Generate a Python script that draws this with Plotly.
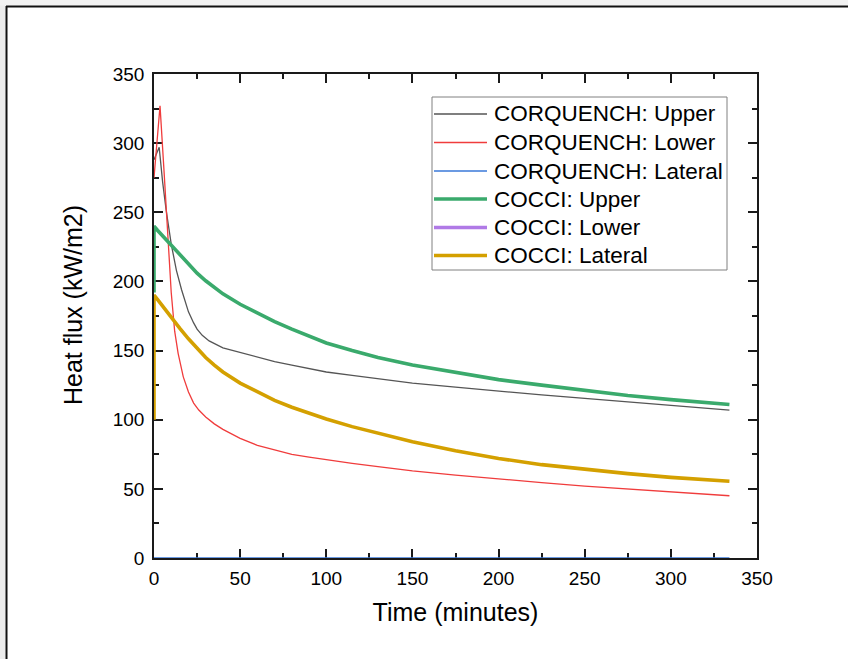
import plotly.graph_objects as go

# ---- data ----
t_cq_upper = [0, 1.5, 3, 5, 7, 10, 13, 16, 20, 23, 25, 28, 32, 40, 50, 60, 70, 80, 90, 100, 115, 130, 150, 175, 200, 225, 250, 275, 300, 334]
cq_upper = [288, 293, 297, 272, 252, 227, 208, 194, 178, 170, 165.5, 161, 157, 152, 148.5, 145, 142, 139.5, 137, 134.5, 132, 129.5, 126.5, 123.5, 120.5, 118, 115.5, 113, 110, 107]

t_cq_lower = [0, 1.5, 3.5, 6, 8, 10, 12, 14, 17, 20, 23, 26, 30, 35, 40, 50, 60, 70, 80, 90, 100, 115, 130, 150, 175, 200, 225, 250, 275, 300, 334]
cq_lower = [275, 300, 327, 276, 233, 192, 164, 148, 131, 120, 112, 107, 102, 97, 93, 86.5, 81.5, 78, 75, 73, 71, 68.5, 66, 63, 60, 57, 54.5, 52, 50, 48, 45]

t_cq_lateral = [0, 334]
cq_lateral = [0, 0]

t_cocci = [0, 0, 2, 5, 10, 15, 20, 25, 30, 35, 40, 50, 60, 70, 80, 90, 100, 115, 130, 150, 175, 200, 225, 250, 275, 300, 334]
cocci_upper = [192, 240, 237, 233, 226, 219, 212.5, 206, 200.5, 195.5, 191, 183.5, 177, 171, 165.5, 160.5, 155.5, 150, 145, 139.5, 134, 129, 125, 121, 117.5, 114.5, 111]
cocci_lower = [None] * len(t_cocci)
cocci_lateral = [100, 190, 187, 182, 174, 166, 158.5, 151.5, 145, 139.5, 134.5, 126.5, 120, 114, 109, 104.5, 100.5, 95, 90, 84, 77.5, 72, 67.5, 64, 61, 58.3, 55.5]

x_ticks = [0, 50, 100, 150, 200, 250, 300, 350]
y_ticks = [0, 50, 100, 150, 200, 250, 300, 350]

FONT = "Liberation Sans, Arial, sans-serif"

W, H = 848, 659
L, R, T, B = 154, 91, 74, 101
pw, ph = W - L - R, H - T - B


def px(xp):
    return (xp - L) / pw


def py(yp):
    return (H - B - yp) / ph


fig = go.Figure()
series = [
    ("CORQUENCH: Upper", t_cq_upper, cq_upper, "#555555", 1.3),
    ("CORQUENCH: Lower", t_cq_lower, cq_lower, "#f03c3c", 1.3),
    ("CORQUENCH: Lateral", t_cq_lateral, cq_lateral, "#3a78d8", 1.6),
    ("COCCI: Upper", t_cocci, cocci_upper, "#3aaa6c", 3.6),
    ("COCCI: Lower", t_cocci, cocci_lower, "#b07ae6", 3.6),
    ("COCCI: Lateral", t_cocci, cocci_lateral, "#d4a000", 3.6),
]
for name, x, y, c, w in series:
    fig.add_trace(go.Scatter(x=x, y=y, name=name, mode="lines",
                             line=dict(color=c, width=w), cliponaxis=False,
                             showlegend=False))

axis_common = dict(
    range=[0, 350], showline=True, linecolor="#1a1a1a",
    linewidth=1.7, mirror="allticks", ticks="inside", ticklen=9, tickwidth=1.5,
    tickcolor="#1a1a1a", showgrid=False, zeroline=False, layer="below traces",
    tickfont=dict(family=FONT, size=19, color="black"),
    minor=dict(dtick=25, ticks="inside", ticklen=5, tickwidth=1.5, tickcolor="#1a1a1a", showgrid=False),
)

fig.update_layout(
    width=W, height=H, autosize=False,
    margin=dict(l=L, r=R, t=T, b=B),
    paper_bgcolor="white", plot_bgcolor="white",
    font=dict(family=FONT, color="black"),
    xaxis=dict(**axis_common, tickmode="array", tickvals=x_ticks,
               ticktext=[str(v) for v in x_ticks], ticklabelstandoff=2,
               title=dict(text="Time (minutes)", font=dict(family=FONT, size=25), standoff=16)),
    yaxis=dict(**axis_common, tickmode="array", tickvals=y_ticks,
               ticktext=[str(v) for v in y_ticks], ticklabelstandoff=4),
    showlegend=False,
)

fig.add_annotation(text="Heat flux (kW/m2)", textangle=-90, xref="paper", yref="paper",
                   x=px(73), y=py(305), xanchor="center", yanchor="middle", showarrow=False,
                   font=dict(family=FONT, size=25, color="black"))

# legend box (drawn by hand for exact row spacing)
lg_left, lg_right, lg_top, lg_bottom = 432, 727, 97, 270
fig.add_shape(type="rect", xref="paper", yref="paper", x0=px(lg_left), x1=px(lg_right),
              y0=py(lg_bottom), y1=py(lg_top), fillcolor="white",
              line=dict(color="#808080", width=1), layer="above")
row_y = [114, 142.5, 171, 199, 227.5, 255.5]
for (name, _x, _y, c, w), ry in zip(series, row_y):
    fig.add_shape(type="line", xref="paper", yref="paper", x0=px(434), x1=px(487),
                  y0=py(ry), y1=py(ry), line=dict(color=c, width=w), layer="above")
    fig.add_annotation(text=name, xref="paper", yref="paper", x=px(492), y=py(ry),
                       xanchor="left", yanchor="middle", showarrow=False,
                       font=dict(family=FONT, size=22.5, color="black"))

# outer page frame of the screenshot
fig.add_shape(type="rect", xref="paper", yref="paper", x0=px(0), x1=px(5.5), y0=py(H), y1=py(0),
              fillcolor="#ececec", line=dict(width=0), layer="below")
fig.add_shape(type="rect", xref="paper", yref="paper", x0=px(0), x1=px(W), y0=py(5.5), y1=py(0),
              fillcolor="#f2f2f2", line=dict(width=0), layer="below")
fig.add_shape(type="line", xref="paper", yref="paper", x0=px(6.5), x1=px(6.5), y0=py(6), y1=py(H),
              line=dict(color="#111111", width=2))
fig.add_shape(type="line", xref="paper", yref="paper", x0=px(6), x1=px(W), y0=py(6.5), y1=py(6.5),
              line=dict(color="#111111", width=2))

fig.write_html("out.html")
